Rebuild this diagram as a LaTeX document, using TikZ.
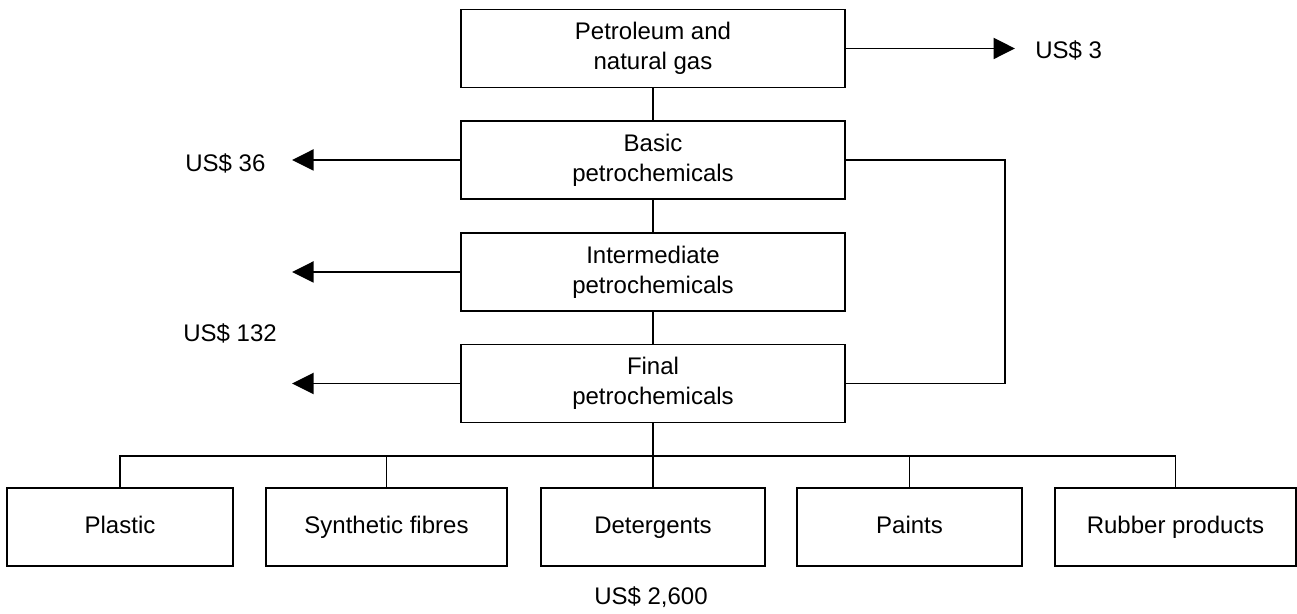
\documentclass[tikz,border=0pt]{standalone}
\usepackage{fontspec}
\setmainfont{Liberation Sans}
\usetikzlibrary{arrows.meta}
\begin{document}
\begin{tikzpicture}[x=0.02cm,y=-0.02cm,
  every node/.style={font=\fontsize{13.66pt}{17.07pt}\selectfont},
  box/.style={draw,line width=1.1pt,rectangle,inner sep=0pt,align=center,minimum height=1.56cm},
  midbox/.style={box,minimum width=7.68cm},
  prodbox/.style={box,text height=10pt,text depth=3pt},
  conn/.style={line width=1.1pt},
  arr/.style={line width=1.1pt,-{Triangle[length=0.43cm,width=0.42cm]}},
  lbl/.style={inner sep=0pt}]
\useasboundingbox (0,0) rectangle (1297,614);
% main chain
\node[midbox] (top) at (653,48.5) {Petroleum and\\natural gas};
\node[midbox] (basic) at (653,160) {Basic\\petrochemicals};
\node[midbox] (inter) at (653,272) {Intermediate\\petrochemicals};
\node[midbox] (final) at (653,383.5) {Final\\petrochemicals};
% products
\node[prodbox,minimum width=4.52cm] (plastic) at (120,527) {Plastic};
\node[prodbox,minimum width=4.82cm] (syn) at (386.5,527) {Synthetic fibres};
\node[prodbox,minimum width=4.48cm] (det) at (653,527) {Detergents};
\node[prodbox,minimum width=4.5cm] (paints) at (909.5,527) {Paints};
\node[prodbox,minimum width=4.82cm] (rubber) at (1175.5,527) {Rubber products};
% helper coordinates
\coordinate (ltip) at (292,0);
\coordinate (rtip) at (1015,0);
\coordinate (loopx) at (1005,0);
\coordinate (bus) at (0,456);
% chain connectors
\draw[conn] (top.south) -- (basic.north);
\draw[conn] (basic.south) -- (inter.north);
\draw[conn] (inter.south) -- (final.north);
\draw[conn] (final.south) -- (det.north);
% bus
\draw[conn] (plastic.north) -- (plastic.north |- bus) -- (rubber.north |- bus) -- (rubber.north);
\draw[conn] (syn.north) -- (syn.north |- bus);
\draw[conn] (paints.north) -- (paints.north |- bus);
% loop
\draw[conn] (basic.east) -- (basic.east -| loopx) -- (final.east -| loopx) -- (final.east);
% arrows
\draw[arr] (top.east) -- (top.east -| rtip);
\draw[arr] (basic.west) -- (basic.west -| ltip);
\draw[arr] (inter.west) -- (inter.west -| ltip);
\draw[arr] (final.west) -- (final.west -| ltip);
% labels
\node[lbl,anchor=west] (l3) at (1035,50) {US\$ 3};
\node[lbl,anchor=west] (l36) at (185,163) {US\$ 36};
\node[lbl,anchor=west] (l132) at (183,333) {US\$ 132};
\node[lbl] (l2600) at (651,597) {US\$ 2,600};
\end{tikzpicture}
\end{document}
